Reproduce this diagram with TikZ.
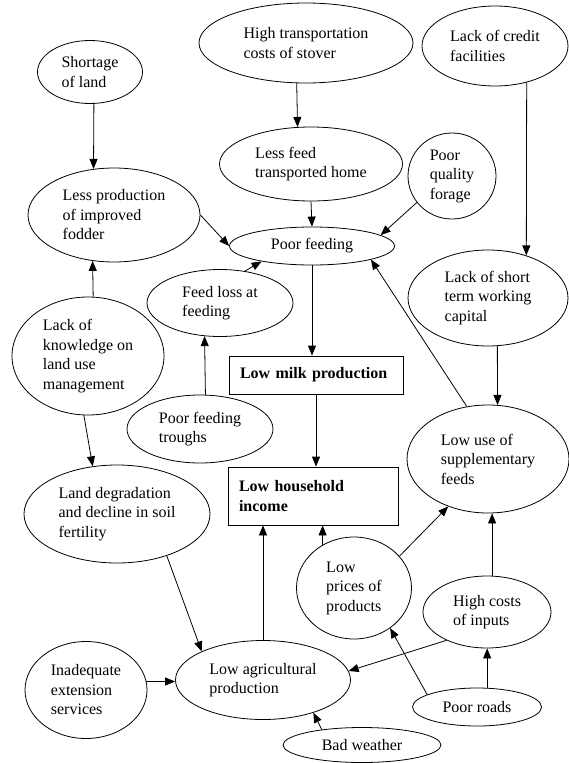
\documentclass[tikz,border=0pt]{standalone}
\usepackage{fontspec}
\setmainfont{Liberation Serif}
\usepackage{tikz}
\usetikzlibrary{shapes, arrows.meta, positioning}

\begin{document}
\begin{tikzpicture}[x=1pt, y=-1pt,
        bubble/.style={draw, ellipse, inner sep=0pt, align=left, line width=0.8pt,
            font=\fontsize{16}{19.5}\selectfont},
        focal/.style={draw, rectangle, inner xsep=11pt, inner ysep=0pt, align=left, line width=0.8pt,
            font=\fontsize{16}{19.5}\selectfont\bfseries},
        link/.style={-{Triangle[length=10pt, width=8pt]}, line width=0.8pt}
    ]
        \useasboundingbox (0,0) rectangle (568,763);

        % Root causes at the top
        \node[bubble, minimum width=105pt, minimum height=63pt] (shortage) at (90,72) {Shortage\\of land};
        \node[bubble, minimum width=214pt, minimum height=80pt] (hightrans) at (306,43) {High transportation\\costs of stover};
        \node[bubble, minimum width=146pt, minimum height=80pt] (credit) at (495,46) {Lack of credit\\facilities};

        % Feeding problems
        \node[bubble, minimum width=183pt, minimum height=74pt] (lessfeed) at (311,164) {Less feed\\transported home};
        \node[bubble, minimum width=88pt, minimum height=86pt] (poorqual) at (452,176) {Poor\\quality\\forage};
        \node[bubble, minimum width=172pt, minimum height=94pt] (lessprod) at (114,215) {Less production\\of improved\\fodder};
        \node[bubble, minimum width=165pt, minimum height=38pt] (poorfeed) at (312,246) {Poor feeding};
        \node[bubble, minimum width=160pt, minimum height=96pt] (lackshort) at (488,298) {Lack of short\\term working\\capital};
        \node[bubble, minimum width=146pt, minimum height=67pt] (feedloss) at (220,303) {Feed loss at\\feeding};
        \node[bubble, minimum width=152pt, minimum height=118pt] (lackknow) at (88,356) {Lack of\\knowledge on\\land use\\management};
        \node[bubble, minimum width=146pt, minimum height=68pt] (troughs) at (200,429) {Poor feeding\\troughs};
        \node[bubble, minimum width=162pt, minimum height=108pt] (lowuse) at (488,459) {Low use of\\supplementary\\feeds};

        % Core problems
        \node[focal, text width=152pt, minimum height=38pt] (lowmilk) at (316,375) {Low milk production};
        \node[focal, text width=148pt, minimum height=58pt] (lowincome) at (313,496) {Low household\\income};

        % Lower causes
        \node[bubble, minimum width=186pt, minimum height=98pt] (landdeg) at (117,514) {Land degradation\\and decline in soil\\fertility};
        \node[bubble, minimum width=115pt, minimum height=102pt] (lowprices) at (354,588) {Low\\prices of\\products};
        \node[bubble, minimum width=128pt, minimum height=72pt] (highcosts) at (487,612) {High costs\\of inputs};
        \node[bubble, minimum width=122pt, minimum height=97pt] (inadequate) at (86,690) {Inadequate\\extension\\services};
        \node[bubble, minimum width=175pt, minimum height=79pt] (lowagri) at (263,680) {Low agricultural\\production};
        \node[bubble, minimum width=129pt, minimum height=38pt] (poorroads) at (477,707) {Poor roads};
        \node[bubble, minimum width=158pt, minimum height=35pt] (badweather) at (362,745) {Bad weather};

        % Arrows
        \draw[link] (shortage.-83) -- (lessprod.114);
        \draw[link] (hightrans.-103) -- (lessfeed.110);
        \draw[link] (credit.-49) -- (lackshort.48);
        \draw[link] (lessfeed.south) -- (poorfeed.north);
        \draw[link] (poorqual.217) -- (poorfeed.9);
        \draw[link] (lessprod.east) -- (poorfeed.west);
        \draw[link] (feedloss.52) -- (poorfeed.197);
        \draw[link] (lowuse.112) -- (poorfeed.-13);
        \draw[link] (poorfeed.south) -- (poorfeed.south |- lowmilk.north);
        \draw[link] (lackshort.-79) -- (lowuse.80);
        \draw[link] (lackknow.85) -- (lessprod.-115);
        \draw[link] (troughs.81) -- (feedloss.-115);
        \draw[link] (lackknow.-94) -- (landdeg.117);
        \draw[link] (lowmilk.south) -- (lowmilk.south |- lowincome.north);
        \draw[link] (landdeg.-40) -- (lowagri.155);
        \draw[link] (inadequate.8) -- (inadequate.8 -| lowagri.west);
        \draw[link] (lowagri.north) -- (lowagri.north |- lowincome.south);
        \draw[link] (lowprices.126) -- (lowprices.126 |- lowincome.south);
        \draw[link] (lowprices.35) -- (lowuse.230);
        \draw[link] (highcosts.82) -- (highcosts.82 |- lowuse.south);
        \draw[link] (highcosts.215) -- (lowagri.6);
        \draw[link] (poorroads.166) -- (lowprices.-48);
        \draw[link] (poorroads.62) -- (poorroads.62 |- highcosts.south);
        \draw[link] (badweather.159) -- (lowagri.-33);
    \end{tikzpicture}
\end{document}
